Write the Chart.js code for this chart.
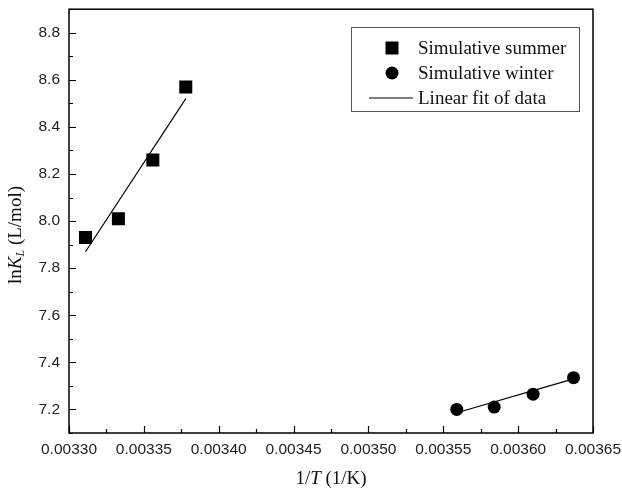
<!DOCTYPE html>
<html>
<head>
<meta charset="utf-8">
<script src="https://cdn.jsdelivr.net/npm/chart.js@4/dist/chart.umd.min.js"></script>
<style>
  html, body { margin: 0; padding: 0; background: #fff; }
  #wrap { width: 622px; height: 489px; }
</style>
</head>
<body>
<div id="wrap"><canvas id="chart" width="622" height="489"></canvas></div>
<script>
// Data
const summerX = [0.003311, 0.003333, 0.003356, 0.003378];
const summerY = [7.93, 8.01, 8.26, 8.57];
const winterX = [0.003559, 0.003584, 0.003610, 0.003637];
const winterY = [7.20, 7.21, 7.265, 7.335];

// Endpoints of the fitted lines, as drawn
const summerFitX = [0.003311, 0.003378];
const summerFitY = [7.87, 8.52];
const winterFitX = [0.003559, 0.003637];
const winterFitY = [7.186, 7.330];

const legendLabels = ['Simulative summer', 'Simulative winter', 'Linear fit of data'];

const xMin = 0.00330, xMax = 0.00365, xStep = 0.000025;
const yMin = 7.1, yMax = 8.9, yStep = 0.1;

const serif = '"Liberation Serif", "Times New Roman", serif';
const sans = '"Liberation Sans", Arial, sans-serif';

function toPoints(xs, ys) {
  return xs.map((x, i) => ({ x: x, y: ys[i] }));
}

function isMajorX(v) { return Math.round(v / xStep) % 2 === 0; }
function isMajorY(v) { return Math.round(v / yStep) % 2 === 0; }

// draw text made of several styled pieces, centred on (x, y)
function drawRich(ctx, parts, x, y) {
  let total = 0;
  parts.forEach(p => { ctx.font = p.font; total += ctx.measureText(p.text).width; });
  let cx = x - total / 2;
  parts.forEach(p => {
    ctx.font = p.font;
    ctx.fillText(p.text, cx, y + (p.dy || 0));
    cx += ctx.measureText(p.text).width;
  });
}

const framePlugin = {
  id: 'frame',
  afterDraw(chart) {
    const ctx = chart.ctx;
    const a = chart.chartArea;
    const xs = chart.scales.x, ys = chart.scales.y;
    ctx.save();

    // plot box
    ctx.strokeStyle = '#000';
    ctx.lineWidth = 1.5;
    ctx.strokeRect(a.left, a.top, a.right - a.left, a.bottom - a.top);

    // inward ticks
    ctx.lineWidth = 1.2;
    ctx.beginPath();
    xs.ticks.forEach(t => {
      const px = Math.round(xs.getPixelForValue(t.value)) + 0.5;
      const len = isMajorX(t.value) ? 7 : 4;
      ctx.moveTo(px, a.bottom);
      ctx.lineTo(px, a.bottom - len);
    });
    ys.ticks.forEach(t => {
      const py = Math.round(ys.getPixelForValue(t.value)) + 0.5;
      const len = isMajorY(t.value) ? 7 : 4;
      ctx.moveTo(a.left, py);
      ctx.lineTo(a.left + len, py);
    });
    ctx.stroke();

    // tick labels
    ctx.fillStyle = '#222';
    ctx.font = '15.5px ' + sans;
    ctx.textBaseline = 'middle';
    ctx.textAlign = 'center';
    xs.ticks.forEach(t => {
      if (isMajorX(t.value)) ctx.fillText(t.value.toFixed(5), xs.getPixelForValue(t.value), a.bottom + 17);
    });
    ctx.textAlign = 'right';
    ys.ticks.forEach(t => {
      if (isMajorY(t.value)) ctx.fillText(t.value.toFixed(1), a.left - 9, ys.getPixelForValue(t.value));
    });

    // axis titles
    ctx.fillStyle = '#111';
    ctx.textAlign = 'left';
    drawRich(ctx, [
      { text: '1/', font: '19px ' + serif },
      { text: 'T', font: 'italic 19px ' + serif },
      { text: ' (1/K)', font: '19px ' + serif }
    ], (a.left + a.right) / 2, 479);

    ctx.save();
    ctx.translate(16, 235);
    ctx.rotate(-Math.PI / 2);
    drawRich(ctx, [
      { text: 'ln', font: '19px ' + serif },
      { text: 'K', font: 'italic 19px ' + serif },
      { text: 'L', font: 'italic 12px ' + serif, dy: 5 },
      { text: ' (L/mol)', font: '19px ' + serif }
    ], 0, 0);
    ctx.restore();

    // legend
    const lx = 351, ly = 27, lw = 228, lh = 84;
    ctx.fillStyle = '#fff';
    ctx.fillRect(lx, ly, lw, lh);
    ctx.strokeStyle = '#555';
    ctx.lineWidth = 1;
    ctx.strokeRect(lx + 0.5, ly + 0.5, lw, lh);

    const rows = [48, 73, 98];
    ctx.fillStyle = '#000';
    ctx.fillRect(392 - 6.5, rows[0] - 6.5, 13, 13);
    ctx.beginPath();
    ctx.arc(392, rows[1], 6.5, 0, Math.PI * 2);
    ctx.fill();
    ctx.strokeStyle = '#000';
    ctx.lineWidth = 1.2;
    ctx.beginPath();
    ctx.moveTo(369, rows[2]);
    ctx.lineTo(413, rows[2]);
    ctx.stroke();

    ctx.font = '19px ' + serif;
    ctx.fillStyle = '#111';
    legendLabels.forEach((txt, i) => ctx.fillText(txt, 418, rows[i] + 1));

    ctx.restore();
  }
};

new Chart(document.getElementById('chart').getContext('2d'), {
  type: 'scatter',
  data: {
    datasets: [
      {
        label: legendLabels[0],
        data: toPoints(summerX, summerY),
        pointStyle: 'rect',
        pointRadius: 9.2,
        backgroundColor: '#000',
        borderColor: '#000',
        borderWidth: 0
      },
      {
        label: legendLabels[1],
        data: toPoints(winterX, winterY),
        pointStyle: 'circle',
        pointRadius: 6.5,
        backgroundColor: '#000',
        borderColor: '#000',
        borderWidth: 0
      },
      {
        label: legendLabels[2],
        data: toPoints(summerFitX, summerFitY),
        showLine: true,
        pointRadius: 0,
        borderColor: '#000',
        borderWidth: 1.2
      },
      {
        label: legendLabels[2],
        data: toPoints(winterFitX, winterFitY),
        showLine: true,
        pointRadius: 0,
        borderColor: '#000',
        borderWidth: 1.2
      }
    ]
  },
  options: {
    responsive: false,
    animation: false,
    devicePixelRatio: 1,
    layout: { padding: { left: 0, top: 9, right: 29, bottom: 0 } },
    plugins: {
      legend: { display: false },
      tooltip: { enabled: false }
    },
    scales: {
      x: {
        type: 'linear',
        min: xMin,
        max: xMax,
        grid: { display: false, drawTicks: false },
        border: { display: false },
        afterFit: scale => { scale.height = 56; },
        ticks: { stepSize: xStep, display: false }
      },
      y: {
        type: 'linear',
        min: yMin,
        max: yMax,
        grid: { display: false, drawTicks: false },
        border: { display: false },
        afterFit: scale => { scale.width = 69; },
        ticks: { stepSize: yStep, display: false }
      }
    }
  },
  plugins: [framePlugin]
});
</script>
</body>
</html>
